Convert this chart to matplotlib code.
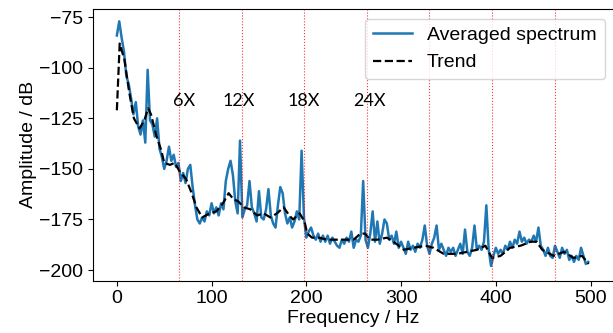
import numpy as np
import matplotlib.pyplot as plt

plt.rcParams['font.family'] = ['Liberation Sans', 'DejaVu Sans']

# averaged spectrum, 2.5 Hz bins
freq = np.arange(0, 500, 2.5)
amp = [
    -84, -77, -85, -92, -104, -108, -115, -123, -117, -129,
    -133, -126, -137, -101, -126, -128, -134, -125, -140, -144,
    -150, -146, -139, -146, -143, -149, -147, -156, -152, -157,
    -150, -148, -159, -168, -175, -177, -174, -176, -171, -173,
    -167, -172, -169, -173, -167, -170, -156, -150, -146, -153,
    -166, -172, -136, -174, -170, -168, -156, -169, -172, -176,
    -161, -174, -175, -170, -160, -173, -177, -179, -168, -159,
    -162, -172, -177, -174, -179, -176, -171, -175, -141, -174,
    -184, -181, -179, -183, -185, -182, -186, -183, -186, -183,
    -187, -184, -186, -188, -189, -185, -187, -184, -186, -181,
    -189, -185, -186, -183, -156, -185, -189, -182, -171, -186,
    -176, -187, -182, -175, -177, -185, -183, -187, -181, -189,
    -186, -189, -192, -186, -190, -188, -191, -187, -189, -185,
    -178, -188, -192, -187, -184, -178, -190, -187, -190, -193,
    -189, -191, -189, -193, -190, -187, -192, -180, -191, -193,
    -189, -178, -190, -188, -190, -186, -168, -190, -198, -193,
    -189, -192, -190, -192, -188, -190, -186, -189, -185, -187,
    -181, -186, -184, -187, -185, -186, -183, -186, -179, -188,
    -190, -193, -189, -193, -194, -188, -191, -194, -189, -192,
    -190, -195, -193, -196, -193, -195, -189, -193, -197, -196,
]

# smoothed trend
trend_freq = [0, 3, 8, 13, 18, 24, 29, 33, 36, 42, 47, 50, 56, 61, 66, 73, 79,
              84, 90, 98, 105, 112, 118, 123, 128, 134, 141, 148, 155, 162,
              169, 176, 182, 186, 193, 198, 201, 206, 213, 222, 235, 250, 257,
              262, 267, 275, 285, 292, 303, 313, 326, 334, 345, 359, 370, 380,
              389, 396, 405, 415, 426, 437, 443, 449, 461, 472, 482, 491, 498]
trend_amp = [-121, -88, -96, -112, -125, -130, -126, -120, -123, -134, -141,
             -147, -148, -147, -151, -155, -162, -169, -174, -172, -171, -167,
             -162, -165, -166, -169, -170, -173, -172, -174, -172, -169, -173,
             -175, -172, -176, -182, -184, -184, -185, -185, -185, -182, -182,
             -185, -185, -184, -186, -190, -189, -188, -189, -192, -192, -191,
             -190, -188, -194, -193, -189, -188, -186, -186, -190, -193, -191,
             -194, -193, -197]

# gear mesh orders
order_freqs = [66, 132, 198, 264, 330, 396, 462]
order_labels = ['6X', '12X', '18X', '24X']
label_x = [59, 111, 180, 249.5]

fig = plt.figure(figsize=(6.13, 3.33), dpi=100)
ax = fig.add_axes([0.152, 0.157, 0.85, 0.816])

ax.plot(freq, amp, color='#1f77b4', lw=1.8, label='Averaged spectrum')
ax.plot(trend_freq, trend_amp, 'k--', lw=1.6, label='Trend')

for f in order_freqs:
    ax.axvline(f, color='red', ls=':', lw=0.8, alpha=0.8)

for lab, x in zip(order_labels, label_x):
    ax.text(x, -116.2, lab, fontsize=13, va='center', ha='left',
            family=['Lato', 'DejaVu Sans'])

ax.set_xlim(-25, 525)
ax.set_ylim(-205.3, -70.9)
ax.set_xticks([0, 100, 200, 300, 400, 500])
ax.set_yticks([-75, -100, -125, -150, -175, -200])
ax.tick_params(labelsize=14)
ax.set_xlabel('Frequency / Hz', fontsize=14, labelpad=2)
ax.set_ylabel('Amplitude / dB', fontsize=14, labelpad=2)
ax.legend(loc='upper right', fontsize=14)

fig.savefig('out.png')
